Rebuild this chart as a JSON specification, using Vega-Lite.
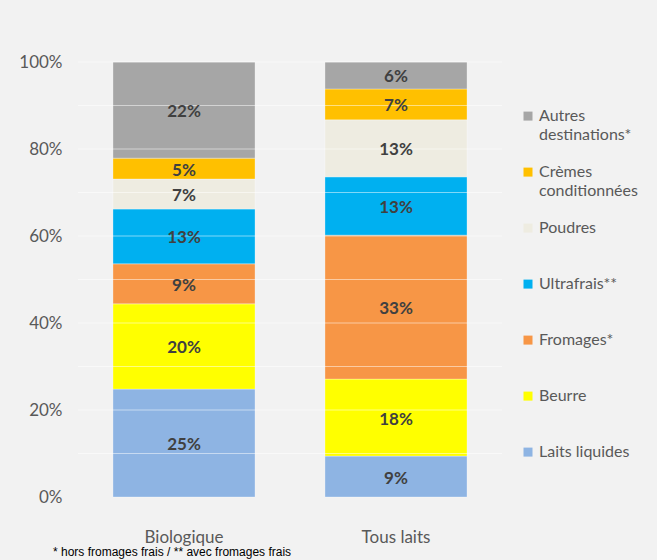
{
  "$schema": "https://vega.github.io/schema/vega-lite/v6.json",
  "autosize": "none",
  "padding": {"left": 78, "top": 62, "right": 155, "bottom": 63},
  "width": 424,
  "height": 435,
  "background": "#f2f2f2",
  "config": {
    "view": {"stroke": null},
    "font": "Lato",
    "style": {"guide-label": {"lineHeight": 19}}
  },
  "title": {
    "text": "* hors fromages frais  / ** avec fromages frais",
    "orient": "bottom",
    "anchor": "start",
    "frame": "group",
    "font": "Liberation Sans",
    "fontSize": 12,
    "fontWeight": "normal",
    "color": "#000000",
    "dx": -25,
    "offset": 2
  },
  "data": {
    "values": [
      {"type": "Biologique", "dest": "Laits liquides", "rank": 1, "value": 24.8},
      {"type": "Biologique", "dest": "Beurre", "rank": 2, "value": 19.6},
      {"type": "Biologique", "dest": "Fromages*", "rank": 3, "value": 9.2},
      {"type": "Biologique", "dest": "Ultrafrais**", "rank": 4, "value": 12.6},
      {"type": "Biologique", "dest": "Poudres", "rank": 5, "value": 6.9},
      {"type": "Biologique", "dest": "Crèmes conditionnées", "rank": 6, "value": 4.8},
      {"type": "Biologique", "dest": "Autres destinations*", "rank": 7, "value": 22.1},
      {"type": "Tous laits", "dest": "Laits liquides", "rank": 1, "value": 9.4},
      {"type": "Tous laits", "dest": "Beurre", "rank": 2, "value": 17.7},
      {"type": "Tous laits", "dest": "Fromages*", "rank": 3, "value": 33.1},
      {"type": "Tous laits", "dest": "Ultrafrais**", "rank": 4, "value": 13.4},
      {"type": "Tous laits", "dest": "Poudres", "rank": 5, "value": 13.1},
      {"type": "Tous laits", "dest": "Crèmes conditionnées", "rank": 6, "value": 7.1},
      {"type": "Tous laits", "dest": "Autres destinations*", "rank": 7, "value": 6.2}
    ]
  },
  "transform": [
    {"stack": "value", "groupby": ["type"], "sort": [{"field": "rank", "order": "ascending"}], "as": ["y0", "y1"]},
    {"calculate": "(datum.y0 + datum.y1) / 2", "as": "ymid"},
    {"calculate": "format(datum.value, '.0f') + '%'", "as": "label"}
  ],
  "encoding": {
    "x": {
      "field": "type",
      "type": "nominal",
      "scale": {"paddingInner": 0.33, "paddingOuter": 0.165},
      "axis": {
        "title": null,
        "labelAngle": 0,
        "labelFontSize": 17,
        "labelColor": "#595959",
        "labelPadding": 32,
        "ticks": false,
        "domain": false
      }
    }
  },
  "layer": [
    {
      "mark": {"type": "bar", "stroke": "#ffffff", "strokeWidth": 0.5, "strokeOpacity": 0.6},
      "encoding": {
        "y": {
          "field": "y0",
          "type": "quantitative",
          "scale": {"domain": [0, 100]},
          "axis": {
            "title": null,
            "values": [0, 20, 40, 60, 80, 100],
            "labelExpr": "datum.value + '%'",
            "labelFontSize": 17,
            "labelColor": "#595959",
            "labelPadding": 16,
            "ticks": false,
            "domain": false,
            "grid": false
          }
        },
        "y2": {"field": "y1"},
        "color": {
          "field": "dest",
          "type": "nominal",
          "scale": {
            "domain": ["Autres destinations*", "Crèmes conditionnées", "Poudres", "Ultrafrais**", "Fromages*", "Beurre", "Laits liquides"],
            "range": ["#a6a6a6", "#ffc000", "#eeece1", "#00b0f0", "#f79646", "#ffff00", "#8eb4e3"]
          },
          "legend": {
            "title": null,
            "orient": "none",
            "legendX": 442,
            "legendY": 38,
            "symbolType": "M-1,0.8H1V2.8H-1Z",
            "symbolSize": 81,
            "symbolStrokeWidth": 0,
            "labelFontSize": 16,
            "labelColor": "#595959",
            "labelBaseline": "top",
            "rowPadding": 13,
            "labelOffset": 3,
            "labelExpr": "datum.label == 'Autres destinations*' ? ['Autres', 'destinations*'] : datum.label == 'Crèmes conditionnées' ? ['Crèmes', 'conditionnées'] : [datum.label, ' ']"
          }
        },
        "order": {"field": "rank", "type": "quantitative"}
      }
    },
    {
      "mark": {"type": "rule", "color": "#ffffff", "strokeWidth": 1, "opacity": 0.5},
      "data": {"values": [{"g": 10}, {"g": 20}, {"g": 30}, {"g": 40}, {"g": 50}, {"g": 60}, {"g": 70}, {"g": 80}, {"g": 90}, {"g": 100}]},
      "transform": [],
      "encoding": {
        "x": null,
        "y": {"field": "g", "type": "quantitative"}
      }
    },
    {
      "mark": {"type": "text", "fontSize": 17, "fontWeight": "bold", "color": "#404040", "dy": 2},
      "encoding": {
        "y": {"field": "ymid", "type": "quantitative"},
        "text": {"field": "label", "type": "nominal"}
      }
    }
  ]
}
